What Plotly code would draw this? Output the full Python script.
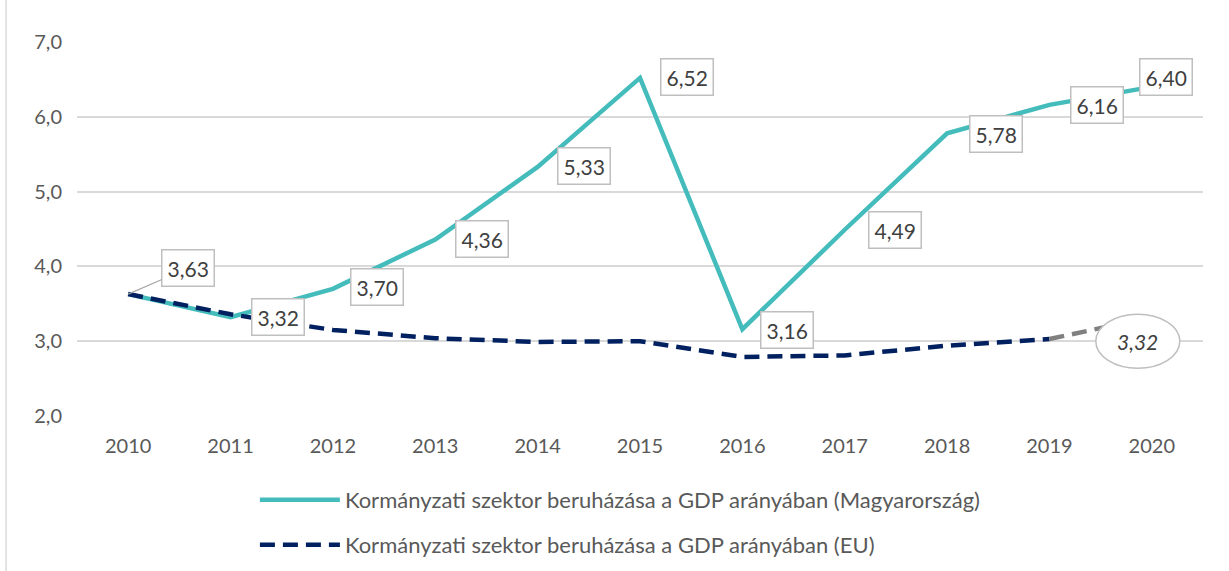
import plotly.graph_objects as go

years = [2010, 2011, 2012, 2013, 2014, 2015, 2016, 2017, 2018, 2019, 2020]
hu_values = [3.63, 3.32, 3.70, 4.36, 5.33, 6.52, 3.16, 4.49, 5.78, 6.16, 6.40]
eu_values = [3.63, 3.36, 3.15, 3.04, 2.99, 3.00, 2.79, 2.81, 2.94, 3.03]
eu_forecast_years = [2019, 2020]
eu_forecast_values = [3.03, 3.32]
y_ticks = [2.0, 3.0, 4.0, 5.0, 6.0, 7.0]
y_tick_labels = ["2,0", "3,0", "4,0", "5,0", "6,0", "7,0"]
hu_name = "Kormányzati szektor beruházása a GDP arányában (Magyarország)"
eu_name = "Kormányzati szektor beruházása a GDP arányában (EU)"

# label offsets (pixels, right/up positive)
label_dx = [60, 47, 44, 47, 46, 47, 45, 50, 49, 48, 14]
label_dy = [26, 0, 2, 0, 1, 1, -1, 0, -1, 0, 10]

FONT = "Lato"
TEAL = "#45BCBC"
NAVY = "#002060"
GREY_TEXT = "#404040"
DASH = "15px,8px"

fig = go.Figure()
fig.add_trace(go.Scatter(x=years, y=hu_values, mode="lines", name=hu_name, legend="legend",
                         line=dict(color=TEAL, width=4.5)))
fig.add_trace(go.Scatter(x=years[:len(eu_values)], y=eu_values, mode="lines", name=eu_name,
                         legend="legend2",
                         line=dict(color=NAVY, width=4.5, dash=DASH)))
fig.add_trace(go.Scatter(x=eu_forecast_years, y=eu_forecast_values, mode="lines",
                         showlegend=False, line=dict(color="#808080", width=4.5, dash=DASH)))

def fmt(v):
    return f"{v:.2f}".replace(".", ",")

annotations = []
for i, (yr, v) in enumerate(zip(years, hu_values)):
    if i == 0:
        annotations.append(dict(x=yr, y=v, xref="x", yref="y", text=fmt(v),
                                showarrow=True, arrowhead=0, arrowwidth=1.2,
                                arrowcolor="#A6A6A6", ax=label_dx[i], ay=-label_dy[i],
                                font=dict(family=FONT, size=21, color=GREY_TEXT),
                                bgcolor="white", bordercolor="#BFBFBF",
                                borderwidth=1.5, borderpad=5))
    else:
        annotations.append(dict(x=yr, y=v, xref="x", yref="y", text=fmt(v),
                                showarrow=False, xshift=label_dx[i], yshift=label_dy[i],
                                font=dict(family=FONT, size=21, color=GREY_TEXT),
                                bgcolor="white", bordercolor="#BFBFBF",
                                borderwidth=1.5, borderpad=5))

annotations.append(dict(x=eu_forecast_years[-1], y=eu_forecast_values[-1], xref="x", yref="y",
                        text=fmt(eu_forecast_values[-1]), showarrow=False,
                        xshift=-14, yshift=-24,
                        font=dict(family=FONT, size=21, color=GREY_TEXT, style="italic")))

shapes = [
    dict(type="circle", xref="x", yref="y", xsizemode="pixel", ysizemode="pixel",
         xanchor=eu_forecast_years[-1], yanchor=eu_forecast_values[-1],
         x0=-56, x1=28, y0=-51, y1=3,
         line=dict(color="#BFBFBF", width=1.5), fillcolor="white", layer="above"),
    dict(type="line", xref="paper", yref="paper", x0=-0.063, x1=-0.063, y0=-0.42, y1=1.12,
         line=dict(color="#D9D9D9", width=1.5)),
]

legend_style = dict(orientation="v", x=0.158, xanchor="left", yanchor="middle",
                    yref="container",
                    font=dict(family=FONT, size=22, color="#595959"), itemwidth=80,
                    bgcolor="rgba(0,0,0,0)")

fig.update_layout(
    width=1229, height=571,
    margin=dict(l=77, r=26, t=42, b=155),
    paper_bgcolor="white", plot_bgcolor="white",
    font=dict(family=FONT, color="#595959", size=20),
    xaxis=dict(range=[2009.5, 2020.5], tickmode="array", tickvals=years,
               ticktext=[str(y) for y in years], showgrid=False, zeroline=False,
               showline=False, ticks="", tickfont=dict(size=20, color="#595959"),
               ticklabelstandoff=16, automargin=False),
    yaxis=dict(range=[2.0, 7.0], tickmode="array", tickvals=y_ticks, ticktext=y_tick_labels,
               showgrid=True, gridcolor="#D9D9D9", gridwidth=1.5, zeroline=False,
               showline=False, ticks="", tickfont=dict(size=20, color="#595959"),
               ticklabelstandoff=14, automargin=False),
    legend=dict(legend_style, y=0.1243),
    legend2=dict(legend_style, y=0.0455),
    annotations=annotations,
    shapes=shapes,
)

fig.write_html("out.html", config={"displayModeBar": False})

# remove default page margin so the figure sits at the window origin
with open("out.html", "r", encoding="utf-8") as f:
    html = f.read()
html = html.replace("<head>", "<head><style>html,body{margin:0;padding:0;overflow:hidden;}</style>", 1)
with open("out.html", "w", encoding="utf-8") as f:
    f.write(html)
